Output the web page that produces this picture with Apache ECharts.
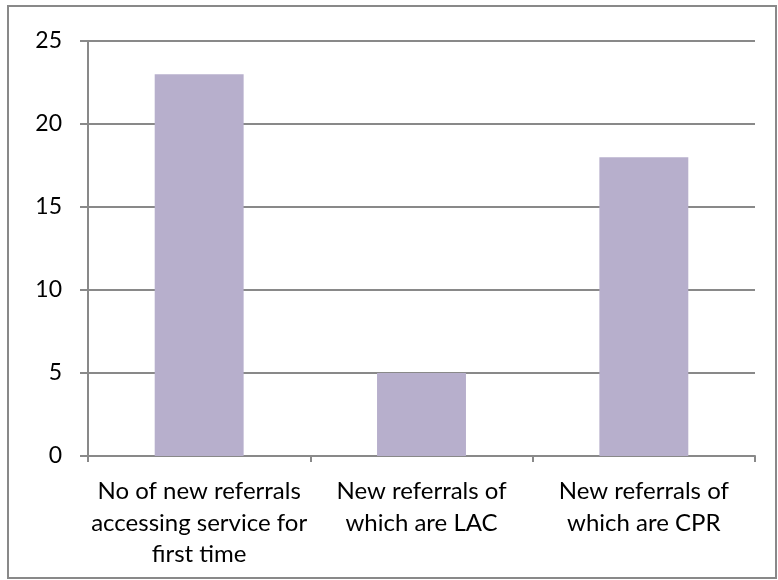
<!DOCTYPE html>
<html><head><meta charset="utf-8">
<script src="https://cdn.jsdelivr.net/npm/echarts@6/dist/echarts.min.js"></script>
<style>html,body{margin:0;padding:0;background:#fff}#c{width:778px;height:580px}</style>
</head><body><div id="c"></div>
<script>
const categories = ["No of new referrals\naccessing service for\nfirst time", "New referrals of\nwhich are LAC", "New referrals of\nwhich are CPR"];
const values = [23, 5, 18];
const yTicks = [0, 5, 10, 15, 20, 25];

const chart = echarts.init(document.getElementById('c'), null, {renderer: 'canvas'});
const gray = '#898989';
chart.setOption({
  animation: false,
  graphic: [{type: 'rect', shape: {x: 8, y: 6, width: 768, height: 572}, style: {fill: 'none', stroke: gray, lineWidth: 2}, silent: true}],
  grid: {left: 88, right: 23, top: 41, bottom: 124, containLabel: false},
  xAxis: {
    type: 'category', data: categories,
    axisLine: {lineStyle: {color: gray, width: 2}},
    axisTick: {show: true, length: 6, alignWithLabel: false, lineStyle: {color: gray, width: 2}},
    axisLabel: {color: '#000', fontFamily: 'Lato', fontSize: 24, lineHeight: 31.5, margin: 20, interval: 0}
  },
  yAxis: {
    type: 'value', min: yTicks[0], max: yTicks[yTicks.length - 1], interval: 5,
    axisLine: {show: true, lineStyle: {color: gray, width: 2}},
    axisTick: {show: true, length: 8, lineStyle: {color: gray, width: 2}},
    splitLine: {show: true, lineStyle: {color: gray, width: 2}},
    axisLabel: {color: '#000', fontFamily: 'Lato', fontSize: 23, margin: 26}
  },
  series: [{type: 'bar', data: values, barWidth: '40%', itemStyle: {color: '#b7afcc'}}]
});
</script></body></html>
